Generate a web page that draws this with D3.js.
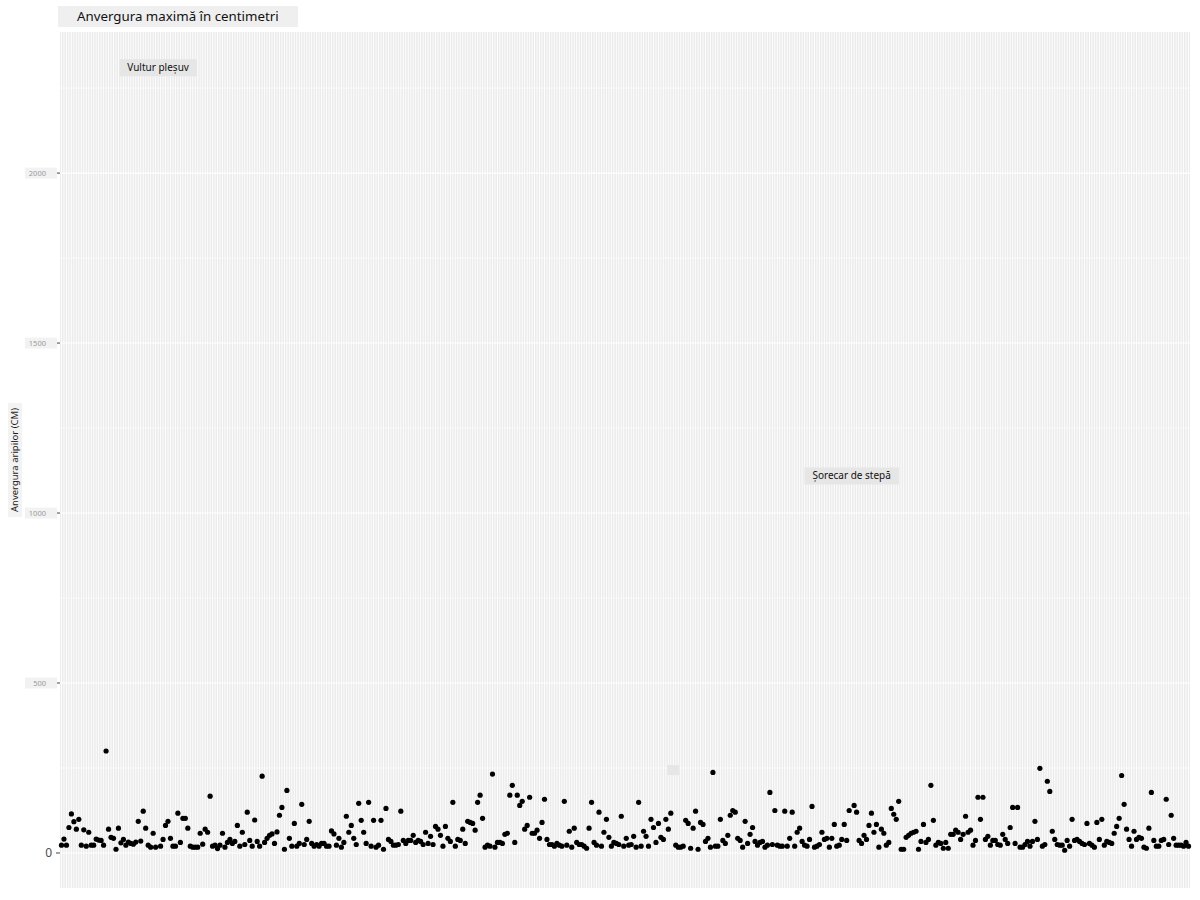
<!DOCTYPE html>
<html>
<head>
<meta charset="utf-8">
<script src="https://cdn.jsdelivr.net/npm/d3@7"></script>
<style>
  body { margin: 0; background: #fff; }
  svg { font-family: "Noto Sans", "Open Sans", sans-serif; }
</style>
</head>
<body>
<div id="chart"></div>
<script>
// Anvergura maximă (cm), în ordinea păsărilor de pe axa x
const wingspan = [
  // 1 - 79
  23, 41, 23, 75, 115, 92, 70, 99, 23, 68, 20, 61, 23, 23, 41, 38, 37, 23, 300, 70,
  46, 43, 11, 73, 30, 40, 23, 32, 28, 26, 32, 93, 35, 123, 73, 23, 17, 58, 17, 2310,
  20, 40, 81, 93, 43, 20, 20, 117, 31, 102, 102, 73, 20, 17, 17, 17, 58, 26, 70, 61,
  167, 20, 23, 13, 23, 58, 17, 31, 40, 28, 34, 81, 20, 61, 25, 120, 37, 20, 97,
  // 80 - 158
  34, 20, 226, 31, 43, 52, 56, 28, 62, 111, 134, 11, 184, 43, 20, 87, 20, 28, 143, 25,
  40, 93, 28, 20, 25, 20, 28, 28, 20, 20, 65, 56, 23, 43, 17, 31, 108, 61, 81, 43,
  25, 146, 96, 61, 28, 149, 20, 96, 17, 23, 96, 11, 131, 40, 34, 23, 23, 25, 123, 37,
  28, 37, 37, 52, 31, 37, 34, 25, 61, 28, 49, 25, 78, 70, 52, 20, 78, 43, 34,
  // 159 - 234
  149, 20, 40, 37, 70, 28, 93, 90, 87, 67, 149, 170, 102, 17, 23, 20, 232, 17, 31, 31,
  28, 55, 58, 170, 199, 31, 170, 140, 152, 70, 81, 164, 58, 58, 67, 43, 90, 158, 40, 25,
  25, 20, 28, 23, 20, 152, 23, 64, 17, 73, 31, 25, 25, 20, 14, 73, 149, 31, 23, 120,
  20, 61, 99, 46, 20, 31, 28, 25, 108, 20, 43, 23, 25, 49, 17, 149,
  // 235 - 309
  20, 64, 49, 20, 99, 75, 31, 87, 46, 40, 99, 70, 117, 244, 23, 17, 17, 20, 96, 87,
  14, 73, 123, 11, 90, 84, 34, 43, 17, 237, 20, 20, 99, 37, 28, 52, 111, 125, 120, 43,
  37, 17, 93, 28, 55, 75, 34, 23, 31, 34, 17, 23, 178, 25, 125, 23, 20, 20, 123, 20,
  43, 120, 20, 61, 73, 34, 23, 20, 40, 137, 17, 20, 25, 61, 40,
  // 310 - 385
  43, 17, 43, 84, 20, 23, 40, 84, 37, 125, 1109, 140, 120, 37, 28, 52, 40, 81, 117, 61,
  84, 17, 70, 58, 23, 31, 131, 114, 99, 152, 11, 11, 46, 52, 58, 61, 64, 11, 34, 84,
  31, 40, 199, 96, 23, 31, 28, 14, 31, 14, 55, 55, 67, 61, 40, 55, 108, 61, 67, 23,
  37, 164, 99, 164, 40, 49, 23, 37, 37, 25, 23, 55, 40, 28, 75, 134,
  // 386 - 456
  28, 134, 17, 17, 25, 34, 20, 34, 93, 40, 249, 20, 25, 211, 181, 64, 40, 25, 23, 23,
  8, 37, 20, 99, 37, 40, 34, 28, 25, 87, 28, 23, 17, 90, 40, 99, 23, 34, 31, 28,
  58, 78, 102, 228, 143, 70, 40, 20, 64, 40, 46, 43, 17, 14, 73, 178, 37, 20, 20, 37,
  40, 158, 25, 111, 43, 23, 23, 23, 20, 31, 20
];

// etichete pentru păsările cu anvergura mare
const labelText = ["Vultur pleșuv", "Șorecar de stepă", ""];
const labelValue = [2310, 1109, 244];

const yTicks = [0, 500, 1000, 1500, 2000];
const yMinor = [250, 750, 1250, 1750, 2250];

const titleText = "Anvergura maximă în centimetri";
const yTitle = "Anvergura aripilor (CM)";

const width = 1200;
const height = 900;
const panel = { left: 60, right: 1190, top: 32, bottom: 888 };

const svg = d3.select("#chart").append("svg")
    .attr("width", width)
    .attr("height", height);

const x = d3.scalePoint()
    .domain(d3.range(wingspan.length))
    .range([panel.left, panel.right])
    .padding(0.6);

const y = d3.scaleLinear()
    .domain([-103, 2415])
    .range([panel.bottom, panel.top]);

// panel background
svg.append("rect")
    .attr("x", panel.left)
    .attr("y", panel.top)
    .attr("width", panel.right - panel.left)
    .attr("height", panel.bottom - panel.top)
    .attr("fill", "#ebebeb");

// minor horizontal grid
svg.append("g").selectAll("line")
  .data(yMinor)
  .join("line")
    .attr("x1", panel.left).attr("x2", panel.right)
    .attr("y1", d => y(d)).attr("y2", d => y(d))
    .attr("stroke", "#fff").attr("stroke-width", 0.6);

// major grid
svg.append("g").selectAll("line")
  .data(yTicks)
  .join("line")
    .attr("x1", panel.left).attr("x2", panel.right)
    .attr("y1", d => y(d)).attr("y2", d => y(d))
    .attr("stroke", "#fff").attr("stroke-width", 1.1);

svg.append("g").selectAll("line")
  .data(x.domain())
  .join("line")
    .attr("x1", d => x(d)).attr("x2", d => x(d))
    .attr("y1", panel.top).attr("y2", panel.bottom)
    .attr("stroke", "#fff").attr("stroke-width", 0.9);

// y axis ticks + labels
const yAxis = svg.append("g");
yAxis.selectAll("line")
  .data(yTicks)
  .join("line")
    .attr("x1", panel.left - 4).attr("x2", panel.left)
    .attr("y1", d => y(d)).attr("y2", d => y(d))
    .attr("stroke", "#444").attr("stroke-width", 1);

yTicks.forEach(t => {
  const g = yAxis.append("g");
  if (t === 0) {
    g.append("text")
      .attr("x", panel.left - 8).attr("y", y(t)).attr("dy", "0.35em")
      .attr("text-anchor", "end")
      .attr("font-size", 12).attr("fill", "#4d4d4d")
      .text(t);
  } else {
    g.append("rect")
      .attr("x", 25).attr("y", y(t) - 5.5)
      .attr("width", panel.left - 28).attr("height", 11)
      .attr("fill", "#f2f2f2");
    g.append("text")
      .attr("x", panel.left - 14).attr("y", y(t)).attr("dy", "0.35em")
      .attr("text-anchor", "end")
      .attr("font-size", 7.5).attr("fill", "#999")
      .text(t);
  }
});

// y axis title
const yt = svg.append("g").attr("transform", "translate(15,460) rotate(-90)");
yt.append("rect")
    .attr("x", -57).attr("y", -7).attr("width", 114).attr("height", 14)
    .attr("fill", "#f3f3f3");
yt.append("text")
    .attr("text-anchor", "middle").attr("dy", "0.35em")
    .attr("font-size", 9.5).attr("fill", "#1a1a1a")
    .text(yTitle);

// title
svg.append("rect")
    .attr("x", 58).attr("y", 6).attr("width", 240).attr("height", 21)
    .attr("fill", "#efefef");
svg.append("text")
    .attr("x", 77).attr("y", 16.5).attr("dy", "0.35em")
    .attr("font-size", 13.3).attr("fill", "#111")
    .text(titleText);

// points
svg.append("g").selectAll("circle")
  .data(wingspan)
  .join("circle")
    .attr("cx", (d, i) => x(i))
    .attr("cy", d => y(d))
    .attr("r", 2.6)
    .attr("fill", "#000");

// labels
const lab = svg.append("g").selectAll("g")
  .data(labelText.map((t, i) => ({ text: t, index: wingspan.indexOf(labelValue[i]), value: labelValue[i] })))
  .join("g")
    .attr("transform", d => `translate(${x(d.index)},${y(d.value)})`);

lab.each(function(d) {
  const g = d3.select(this);
  const rect = g.append("rect").attr("fill", "#e6e6e6");
  const txt = g.append("text")
      .attr("text-anchor", "middle").attr("dy", "0.35em")
      .attr("font-size", 10).attr("fill", "#111")
      .text(d.text);
  const w = d.text ? txt.node().getComputedTextLength() + 16 : 12;
  const h = d.text ? 17 : 10;
  rect.attr("x", -w / 2).attr("y", -h / 2).attr("width", w).attr("height", h);
});
</script>
</body>
</html>
